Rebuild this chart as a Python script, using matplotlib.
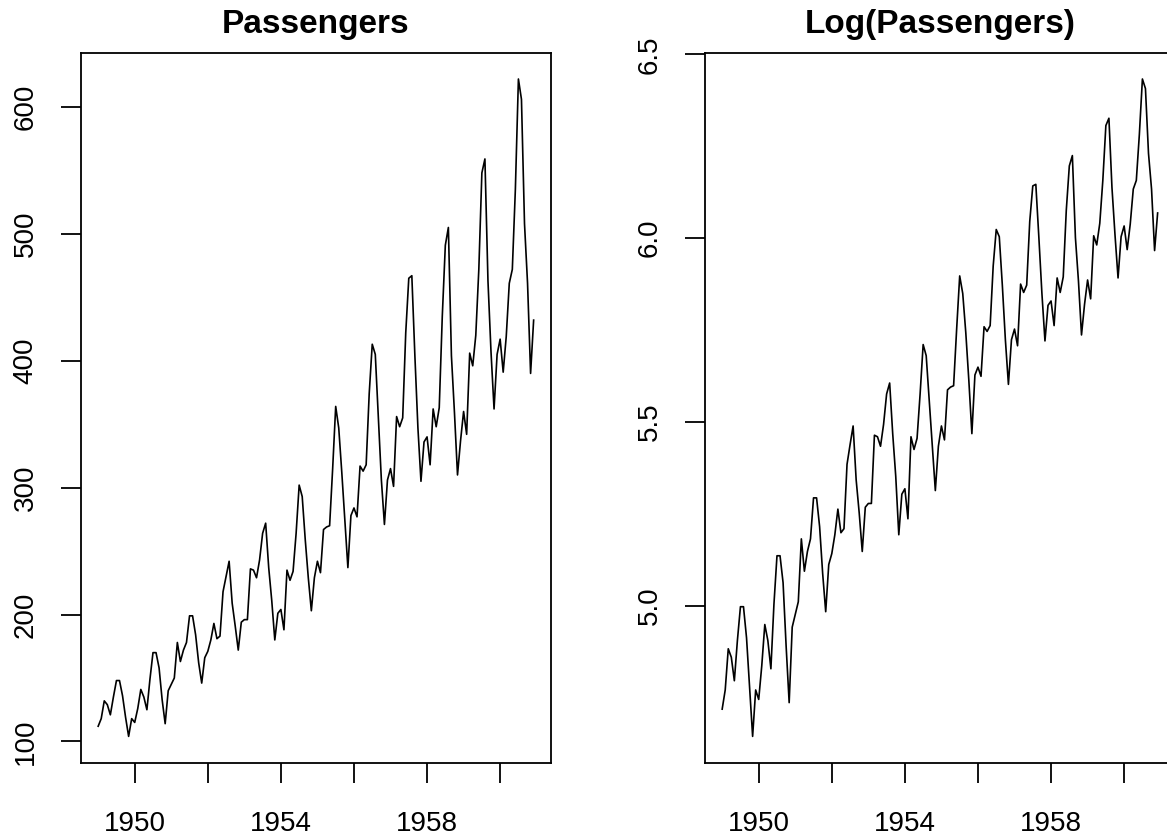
import numpy as np
import matplotlib
matplotlib.use('Agg')
import matplotlib.pyplot as plt

# AirPassengers, monthly totals 1949-1960
y1949 = [112, 118, 132, 129, 121, 135, 148, 148, 136, 119, 104, 118]
y1950 = [115, 126, 141, 135, 125, 149, 170, 170, 158, 133, 114, 140]
y1951 = [145, 150, 178, 163, 172, 178, 199, 199, 184, 162, 146, 166]
y1952 = [171, 180, 193, 181, 183, 218, 230, 242, 209, 191, 172, 194]
y1953 = [196, 196, 236, 235, 229, 243, 264, 272, 237, 211, 180, 201]
y1954 = [204, 188, 235, 227, 234, 264, 302, 293, 259, 229, 203, 229]
y1955 = [242, 233, 267, 269, 270, 315, 364, 347, 312, 274, 237, 278]
y1956 = [284, 277, 317, 313, 318, 374, 413, 405, 355, 306, 271, 306]
y1957 = [315, 301, 356, 348, 355, 422, 465, 467, 404, 347, 305, 336]
y1958 = [340, 318, 362, 348, 363, 435, 491, 505, 404, 359, 310, 337]
y1959 = [360, 342, 406, 396, 420, 472, 548, 559, 463, 407, 362, 405]
y1960 = [417, 391, 419, 461, 472, 535, 622, 606, 508, 461, 390, 432]

passengers = np.array(y1949 + y1950 + y1951 + y1952 + y1953 + y1954 +
                      y1955 + y1956 + y1957 + y1958 + y1959 + y1960, dtype=float)
start_year = 1949
time = start_year + np.arange(len(passengers)) / 12.0

titles = ['Passengers', 'Log(Passengers)']
xticks = [1950, 1952, 1954, 1956, 1958, 1960]
xticklabels = ['1950', '', '1954', '', '1958', '']
yticks_left = [100, 200, 300, 400, 500, 600]
yticks_right = [5.0, 5.5, 6.0, 6.5]

plt.rcParams['font.family'] = ['Liberation Sans', 'DejaVu Sans']

fig = plt.figure(figsize=(11.67, 8.35), dpi=100)
ax1 = fig.add_axes([0.0692, 0.0866, 0.403, 0.8503])
ax2 = fig.add_axes([0.6039, 0.0866, 0.403, 0.8503])


def r_range(v):
    lo, hi = v.min(), v.max()
    d = (hi - lo) * 0.04
    return lo - d, hi + d


def style(ax, series, title, yticks, yfmt):
    ax.plot(time, series, color='black', lw=1.2)
    ax.set_xlim(*r_range(time))
    ax.set_ylim(*r_range(series))
    ax.set_xticks(xticks)
    ax.set_xticklabels(xticklabels)
    ax.set_yticks(yticks)
    ax.set_yticklabels([yfmt % t for t in yticks], rotation=90, va='center')
    ax.tick_params(axis='both', direction='out', length=14.5, width=1.3,
                   labelsize=20)
    ax.tick_params(axis='x', pad=20)
    ax.tick_params(axis='y', pad=16)
    for s in ax.spines.values():
        s.set_linewidth(1.3)
    ax.set_title(title, fontsize=24, fontweight='bold', pad=14)


style(ax1, passengers, titles[0], yticks_left, '%d')
style(ax2, np.log(passengers), titles[1], yticks_right, '%.1f')

plt.savefig('out.png', dpi=100)
